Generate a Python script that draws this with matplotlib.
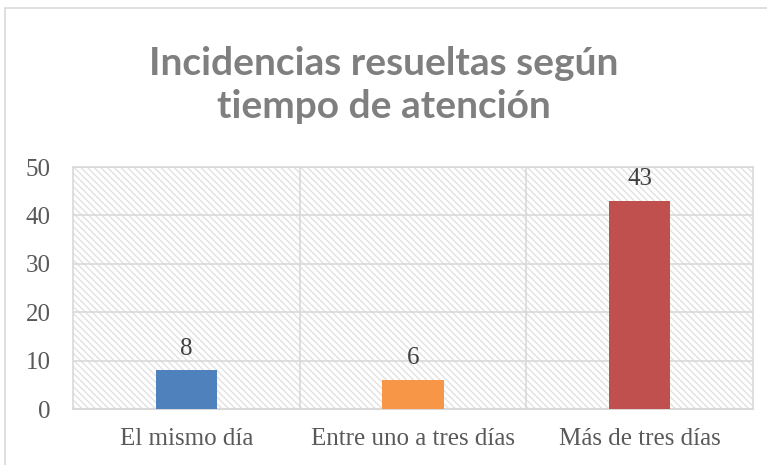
import matplotlib.pyplot as plt
from matplotlib.patches import Rectangle

categorias = ['El mismo día', 'Entre uno a tres días', 'Más de tres días']
valores = [8, 6, 43]
colores = ['#4F81BD', '#F79646', '#C0504D']
yticks = [0, 10, 20, 30, 40, 50]

plt.rcParams['hatch.linewidth'] = 1.0

fig = plt.figure(figsize=(7.67, 4.65), dpi=100)
# borde exterior del gráfico
fig.patches.append(Rectangle((5 / 767, -0.01), 1.0, 1 - 8 / 465 + 0.01,
                             transform=fig.transFigure, fill=False,
                             edgecolor='#d9d9d9', linewidth=1.2))

ax = fig.add_axes([73 / 767, 1 - 409 / 465, 680 / 767, 242 / 465])
# fondo rayado
ax.add_patch(Rectangle((0, 0), 1, 1, transform=ax.transAxes, facecolor='white',
                       edgecolor='#e2e2e2', hatch='\\\\\\\\\\', linewidth=0, zorder=0))

x = range(len(categorias))
barras = ax.bar(x, valores, width=0.27, color=colores, zorder=3)
for xi, v in zip(x, valores):
    ax.text(xi, v + 2.2, str(v), ha='center', va='bottom',
            fontsize=18, family='Liberation Serif', color='#404040')

ax.set_xlim(-0.5, 2.5)
ax.set_ylim(0, 50)
ax.set_yticks(yticks)
ax.set_xticks(list(x))
ax.set_xticklabels(categorias)
for t in ax.get_xticklabels() + ax.get_yticklabels():
    t.set_family('Liberation Serif')
    t.set_fontsize(18)
    t.set_color('#595959')
ax.tick_params(axis='x', length=0, pad=14)
ax.tick_params(axis='y', length=0, pad=16)

for y in yticks[1:]:
    ax.axhline(y, color='#d9d9d9', linewidth=1.2, zorder=1)
for xv in [0.5, 1.5]:
    ax.axvline(xv, color='#d9d9d9', linewidth=1.2, zorder=1)
for s in ax.spines.values():
    s.set_color('#d9d9d9')
    s.set_linewidth(1.2)
ax.spines['bottom'].set_linewidth(1.5)

fig.text(0.5, 1 - 85 / 465, 'Incidencias resueltas según\ntiempo de atención',
         ha='center', va='center', fontsize=28, fontweight='bold',
         family='Lato', color='#7f7f7f', linespacing=1.3)

fig.savefig('out.png', dpi=100)
